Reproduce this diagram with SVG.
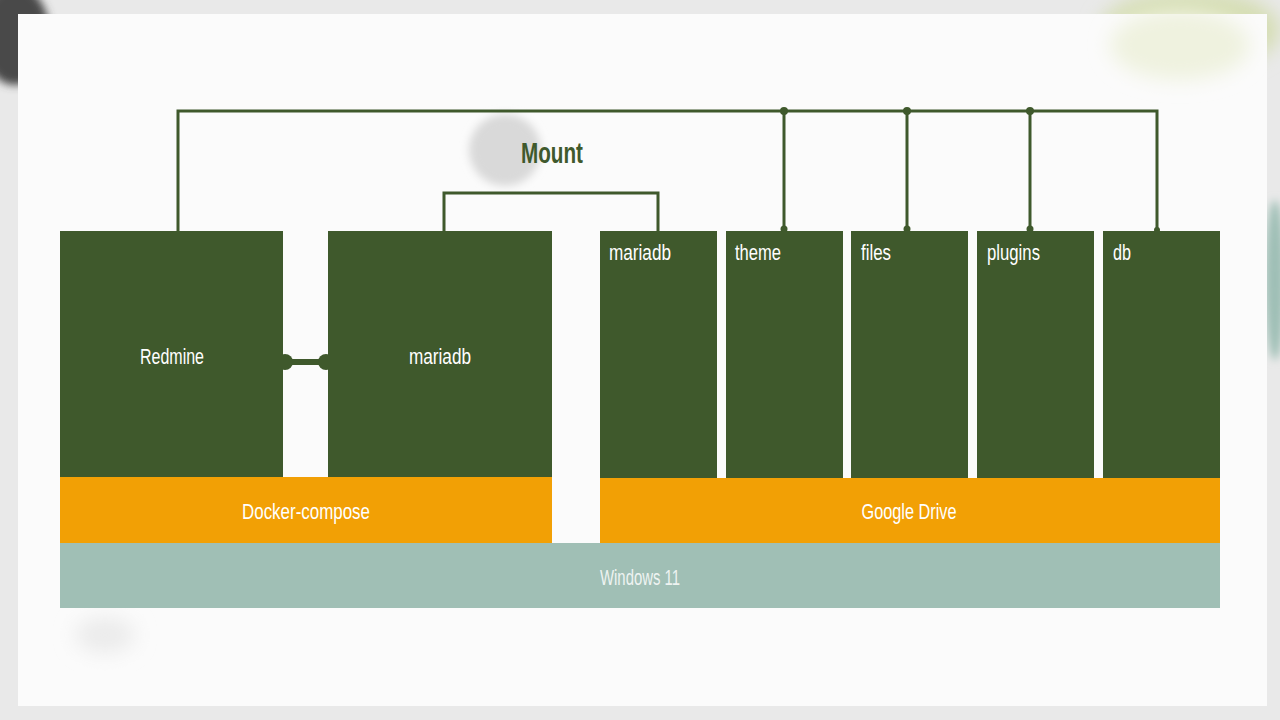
<svg xmlns="http://www.w3.org/2000/svg" width="1280" height="720" viewBox="0 0 1280 720">
<defs>
<filter id="blur" x="-50%" y="-50%" width="200%" height="200%"><feGaussianBlur stdDeviation="10"/></filter>
<filter id="blur2" x="-50%" y="-50%" width="200%" height="200%"><feGaussianBlur stdDeviation="4"/></filter>
<style>
.box{fill:#3f592c}
.or{fill:#f2a005}
.win{fill:#a0bfb5}
.lbl{font-family:"Liberation Sans",Arial,sans-serif;font-size:22px;fill:#ffffff}
.lblc{font-family:"Liberation Sans",Arial,sans-serif;font-size:22px;fill:#ffffff;text-anchor:middle}
.conn{fill:none;stroke:#3f592c;stroke-width:3}
.dot{fill:#3f592c}
</style>
</defs>
<rect x="0" y="0" width="1280" height="720" fill="#e9e9e9"/>
<g id="background">
<ellipse cx="15" cy="35" rx="35" ry="50" fill="#4a4a4a" filter="url(#blur2)"/>
<ellipse cx="1190" cy="30" rx="90" ry="40" fill="#d4ddb0" filter="url(#blur)"/>
<ellipse cx="1275" cy="280" rx="10" ry="80" fill="#9fbfb6" filter="url(#blur2)"/>
<rect x="18" y="14" width="1249" height="692" fill="#fbfbfb"/>
<ellipse cx="505" cy="150" rx="36" ry="36" fill="#d9d9d9" filter="url(#blur2)"/>
<ellipse cx="1180" cy="45" rx="70" ry="35" fill="#eff2df" filter="url(#blur)"/>
<ellipse cx="105" cy="635" rx="30" ry="18" fill="#ebebeb" filter="url(#blur)"/>
</g>
<g id="connectors">
<polyline class="conn" points="178,231 178,111 1157,111 1157,231"/>
<line class="conn" x1="784" y1="111" x2="784" y2="231"/>
<line class="conn" x1="907" y1="111" x2="907" y2="231"/>
<line class="conn" x1="1030" y1="111" x2="1030" y2="231"/>
<circle class="dot" cx="784" cy="111" r="4"/>
<circle class="dot" cx="907" cy="111" r="4"/>
<circle class="dot" cx="1030" cy="111" r="4"/>
<circle class="dot" cx="784" cy="229" r="3.5"/>
<circle class="dot" cx="907" cy="229" r="3.5"/>
<circle class="dot" cx="1030" cy="229" r="3.5"/>
<circle class="dot" cx="1157" cy="230" r="3"/>
<polyline class="conn" points="444,231 444,193 658,193 658,231"/>
<line x1="283" y1="362" x2="328" y2="362" stroke="#3f592c" stroke-width="6"/>
<circle class="dot" cx="285" cy="362" r="8"/>
<circle class="dot" cx="326" cy="362" r="8"/>
</g>
<text x="552" y="163" text-anchor="middle" font-family="Liberation Sans,Arial,sans-serif" font-size="30" font-weight="bold" fill="#3f592c" textLength="62" lengthAdjust="spacingAndGlyphs">Mount</text>
<g id="windows11">
<rect class="win" x="60" y="543" width="1160" height="65"/>
<text class="lblc" x="640" y="585" style="fill:#eef3f1" textLength="80" lengthAdjust="spacingAndGlyphs">Windows 11</text>
</g>
<g id="docker-compose">
<rect class="or" x="60" y="477" width="492" height="66"/>
<text class="lblc" x="306" y="519" textLength="128" lengthAdjust="spacingAndGlyphs">Docker-compose</text>
</g>
<g id="google-drive">
<rect class="or" x="600" y="478" width="620" height="65"/>
<text class="lblc" x="909" y="519" textLength="95" lengthAdjust="spacingAndGlyphs">Google Drive</text>
</g>
<g id="redmine">
<rect class="box" x="60" y="231" width="223" height="246"/>
<text class="lblc" x="172" y="364" textLength="64" lengthAdjust="spacingAndGlyphs">Redmine</text>
</g>
<g id="mariadb-container">
<rect class="box" x="328" y="231" width="224" height="246"/>
<text class="lblc" x="440" y="364" textLength="62" lengthAdjust="spacingAndGlyphs">mariadb</text>
</g>
<g id="mariadb-folder">
<rect class="box" x="600" y="231" width="117" height="247"/>
<text class="lbl" x="609" y="260" textLength="62" lengthAdjust="spacingAndGlyphs">mariadb</text>
</g>
<g id="theme">
<rect class="box" x="726" y="231" width="117" height="247"/>
<text class="lbl" x="735" y="260" textLength="46" lengthAdjust="spacingAndGlyphs">theme</text>
</g>
<g id="files">
<rect class="box" x="851" y="231" width="117" height="247"/>
<text class="lbl" x="861" y="260" textLength="30" lengthAdjust="spacingAndGlyphs">files</text>
</g>
<g id="plugins">
<rect class="box" x="977" y="231" width="117" height="247"/>
<text class="lbl" x="987" y="260" textLength="53" lengthAdjust="spacingAndGlyphs">plugins</text>
</g>
<g id="db">
<rect class="box" x="1103" y="231" width="117" height="247"/>
<text class="lbl" x="1113" y="260" textLength="18" lengthAdjust="spacingAndGlyphs">db</text>
</g>
</svg>
